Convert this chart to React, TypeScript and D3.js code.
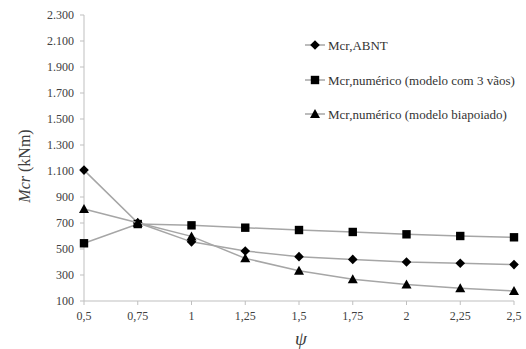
import React from "react";
import * as d3 from "d3";

const psi = [0.5, 0.75, 1, 1.25, 1.5, 1.75, 2, 2.25, 2.5];
const mcrABNT = [1107, 702, 555, 485, 441, 420, 400, 390, 380];
const mcr3Vaos = [544, 692, 682, 664, 646, 631, 613, 600, 590];
const mcrBiapoiado = [807, 702, 597, 428, 333, 267, 226, 198, 177];
const yTicks = [100, 300, 500, 700, 900, 1100, 1300, 1500, 1700, 1900, 2100, 2300];
const seriesNames = [
  "Mcr,ABNT",
  "Mcr,numérico (modelo com 3 vãos)",
  "Mcr,numérico (modelo biapoiado)",
];

const W = 526;
const H = 349;
const left = 84;
const right = 514;
const top = 15;
const bottom = 301;
const FONT = "Liberation Serif, DejaVu Serif, serif";

const x = d3.scaleLinear().domain([0.5, 2.5]).range([left, right]);
const y = d3.scaleLinear().domain([100, 2300]).range([bottom, top]);

const fmtY = (v: number) =>
  v >= 1000 ? `${Math.floor(v / 1000)}.${String(v % 1000).padStart(3, "0")}` : String(v);
const fmtX = (v: number) => String(v).replace(".", ",");

function Marker({ kind, cx, cy }: { kind: number; cx: number; cy: number }) {
  if (kind === 0) {
    const s = 4.8;
    return (
      <path
        d={`M${cx},${cy - s}L${cx + s},${cy}L${cx},${cy + s}L${cx - s},${cy}Z`}
        fill="#000"
      />
    );
  }
  if (kind === 1) {
    return <rect x={cx - 4.2} y={cy - 4.2} width={8.4} height={8.4} fill="#000" />;
  }
  const s = 5;
  return (
    <path
      d={`M${cx},${cy - s}L${cx + s},${cy + s * 0.8}L${cx - s},${cy + s * 0.8}Z`}
      fill="#000"
    />
  );
}

export default function App() {
  const series = [mcrABNT, mcr3Vaos, mcrBiapoiado];
  const line = d3
    .line<number>()
    .x((_, i) => x(psi[i]))
    .y((d) => y(d));
  const legendY = [45, 80, 114];
  return (
    <svg
      width={W}
      height={H}
      style={{ position: "absolute", left: 0, top: 0, background: "#fff", fontFamily: FONT }}
    >
      <rect width={W} height={H} fill="#fff" />
      <line x1={left} x2={left} y1={top} y2={bottom} stroke="#bfbfbf" strokeWidth={1} />
      <line x1={left} x2={right} y1={bottom} y2={bottom} stroke="#bfbfbf" strokeWidth={1} />
      {yTicks.map((t) => (
        <g key={t}>
          <line x1={left - 4} x2={left} y1={y(t)} y2={y(t)} stroke="#bfbfbf" />
          <text
            x={left - 10}
            y={y(t)}
            dy="0.35em"
            textAnchor="end"
            fontSize={12}
            fill="#404040"
          >
            {fmtY(t)}
          </text>
        </g>
      ))}
      {psi.map((t) => (
        <g key={t}>
          <line x1={x(t)} x2={x(t)} y1={bottom} y2={bottom + 4} stroke="#bfbfbf" />
          <text
            x={x(t)}
            y={bottom + 19}
            textAnchor="middle"
            fontSize={12}
            fill="#404040"
          >
            {fmtX(t)}
          </text>
        </g>
      ))}
      {series.map((s, k) => (
        <g key={k}>
          <path d={line(s) || ""} fill="none" stroke="#a6a6a6" strokeWidth={1.5} />
          {s.map((v, i) => (
            <Marker key={i} kind={k} cx={x(psi[i])} cy={y(v)} />
          ))}
        </g>
      ))}
      {seriesNames.map((n, k) => (
        <g key={n}>
          <line
            x1={305}
            x2={325}
            y1={legendY[k]}
            y2={legendY[k]}
            stroke="#a6a6a6"
            strokeWidth={1.5}
          />
          <Marker kind={k} cx={315} cy={legendY[k]} />
          <text x={328} y={legendY[k]} dy="0.35em" fontSize={13} fill="#333">
            {n}
          </text>
        </g>
      ))}
      <text
        transform={`translate(30,${(top + bottom) / 2 + 8}) rotate(-90)`}
        textAnchor="middle"
        fontSize={16}
        fill="#404040"
      >
        <tspan fontStyle="italic">Mcr</tspan>
        <tspan> (kNm)</tspan>
      </text>
      <text
        x={301}
        y={345}
        textAnchor="middle"
        fontSize={19}
        fontStyle="italic"
        fill="#404040"
      >
        ψ
      </text>
    </svg>
  );
}
